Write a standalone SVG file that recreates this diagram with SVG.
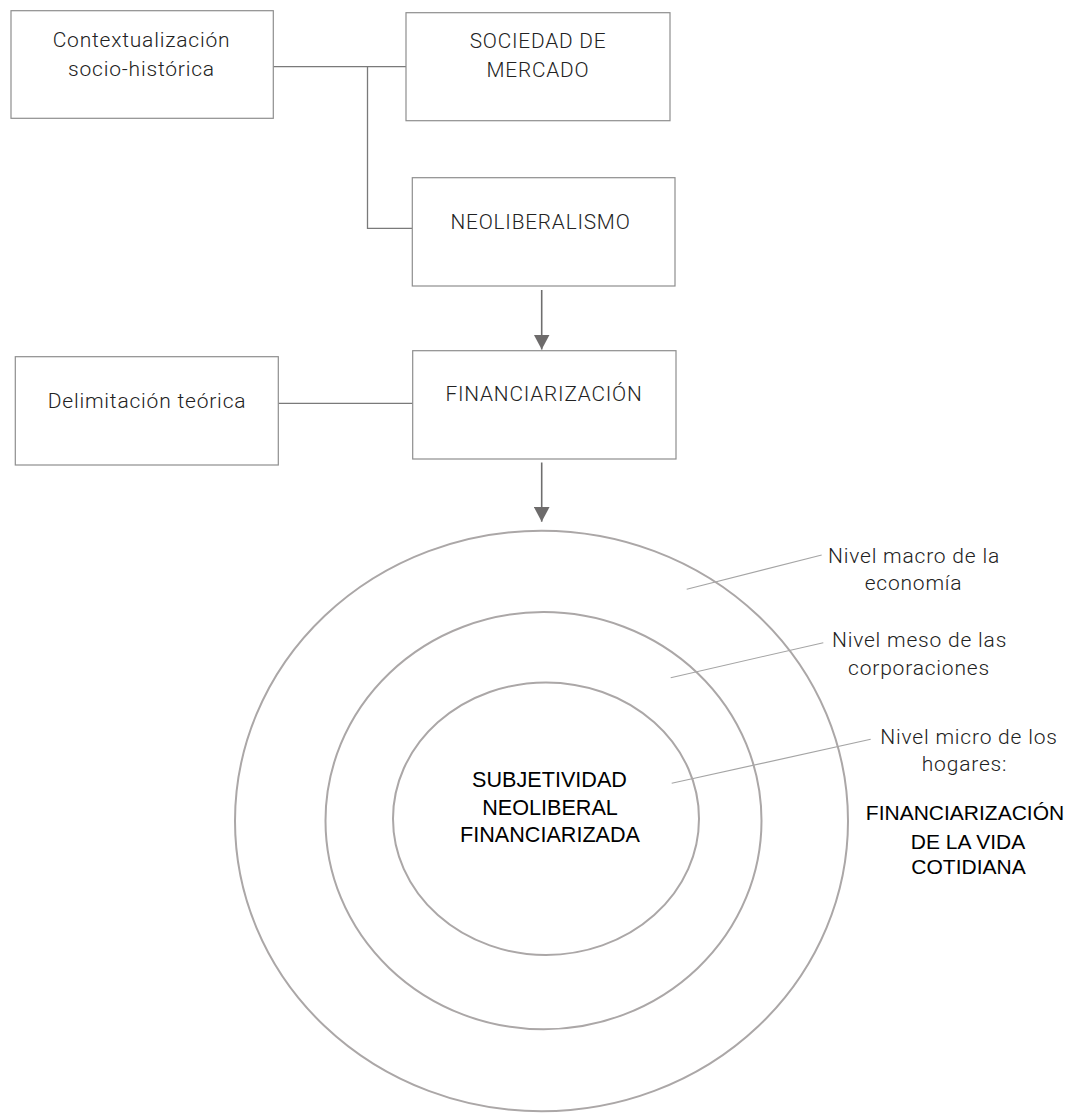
<svg xmlns="http://www.w3.org/2000/svg" width="1075" height="1113" viewBox="0 0 1075 1113">
  <style>
    .box { fill: #ffffff; stroke: #8e8e8e; stroke-width: 1.2; }
    .link { fill: none; stroke: #7a7a7a; stroke-width: 1.3; }
    .flow { fill: none; stroke: #6f6e6e; stroke-width: 1.6; }
    .ring { fill: none; stroke: #aba7a7; stroke-width: 2; }
    .leader { fill: none; stroke: #a5a5a5; stroke-width: 1.1; }
    .lbl { font-family: Roboto, "Liberation Sans", Arial, sans-serif; font-weight: 300; font-size: 21px; fill: #222222; text-anchor: middle; letter-spacing: 0.8px; }
    .cap { font-family: Roboto, "Liberation Sans", Arial, sans-serif; font-weight: 300; font-size: 20.8px; fill: #222222; text-anchor: middle; letter-spacing: 0.8px; }
    .key { font-family: "Liberation Sans", Arial, sans-serif; fill: #000000; text-anchor: middle; }
  </style>
  <defs>
    <marker id="arrowhead" markerUnits="userSpaceOnUse" markerWidth="16" markerHeight="16" viewBox="0 0 16 16" refX="15" refY="8" orient="auto">
      <path d="M0,0 L15,8 L0,16 Z" fill="#6d6b6b"/>
    </marker>
  </defs>

  <!-- connectors -->
  <g id="connectors">
    <path class="link" d="M273,66.7 H406"/>
    <path class="link" d="M367.5,66.7 V228.3 H412.3"/>
    <path class="link" d="M278.3,403.3 H412.7"/>
    <path class="flow" d="M541.7,290 V349.5" marker-end="url(#arrowhead)"/>
    <path class="flow" d="M541.7,462.5 V521.7" marker-end="url(#arrowhead)"/>
    <path class="leader" d="M686.7,589.3 L821.7,555"/>
    <path class="leader" d="M670.7,677.7 L823.3,642.7"/>
    <path class="leader" d="M671.7,783.3 L870.7,739.3"/>
  </g>

  <!-- boxes -->
  <g id="node-contexto">
    <rect class="box" x="11" y="10.7" width="262.3" height="107.6"/>
    <text class="lbl" x="141.5" y="46.7">Contextualización</text>
    <text class="lbl" x="141.5" y="75.7">socio-histórica</text>
  </g>
  <g id="node-sociedad">
    <rect class="box" x="406" y="12.7" width="264" height="108"/>
    <text class="cap" x="538" y="48.3">SOCIEDAD DE</text>
    <text class="cap" x="538" y="77.3">MERCADO</text>
  </g>
  <g id="node-neoliberalismo">
    <rect class="box" x="412.3" y="177.7" width="262.7" height="108.3"/>
    <text class="cap" x="540.5" y="229.3">NEOLIBERALISMO</text>
  </g>
  <g id="node-delimitacion">
    <rect class="box" x="15.3" y="356.7" width="263" height="108.3"/>
    <text class="lbl" x="147" y="408.3">Delimitación teórica</text>
  </g>
  <g id="node-financiarizacion">
    <rect class="box" x="412.7" y="350.7" width="263.3" height="108.3"/>
    <text class="cap" x="544" y="400.7">FINANCIARIZACIÓN</text>
  </g>

  <!-- concentric levels -->
  <g id="node-macro">
    <ellipse class="ring" cx="541.5" cy="821" rx="306.5" ry="290.3"/>
    <text class="lbl" x="914" y="563.3">Nivel macro de la</text>
    <text class="lbl" x="913.5" y="590">economía</text>
  </g>
  <g id="node-meso">
    <ellipse class="ring" cx="543.5" cy="820.7" rx="218" ry="208.6"/>
    <text class="lbl" x="919.5" y="647.3">Nivel meso de las</text>
    <text class="lbl" x="919" y="675">corporaciones</text>
  </g>
  <g id="node-micro">
    <ellipse class="ring" cx="546" cy="818.7" rx="153" ry="136.3"/>
    <text class="lbl" x="969" y="744">Nivel micro de los</text>
    <text class="lbl" x="964.5" y="771">hogares:</text>
    <text class="key" font-size="21" x="965" y="820">FINANCIARIZACIÓN</text>
    <text class="key" font-size="21" x="968" y="849">DE LA VIDA</text>
    <text class="key" font-size="21" x="968.5" y="874.3">COTIDIANA</text>
  </g>
  <g id="node-subjetividad">
    <text class="key" font-size="21.6" x="549.5" y="786.7">SUBJETIVIDAD</text>
    <text class="key" font-size="21.6" x="550" y="815">NEOLIBERAL</text>
    <text class="key" font-size="21.6" x="550" y="841.7">FINANCIARIZADA</text>
  </g>
</svg>
